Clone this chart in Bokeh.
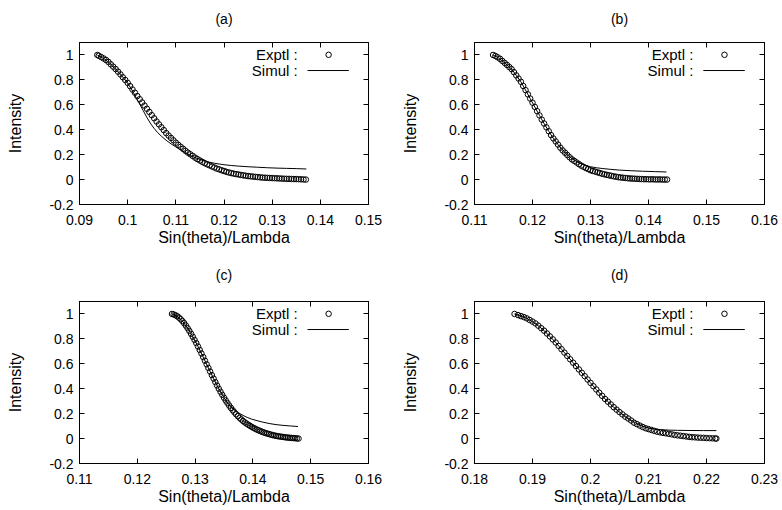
from bokeh.plotting import figure
from bokeh.layouts import gridplot
from bokeh.models import FixedTicker, LinearAxis, Range1d, Label
from bokeh.embed import file_html
from bokeh.resources import INLINE

FONT = "Liberation Sans"

# ---------------- data ----------------
a_x = [0.0937, 0.0940, 0.0945, 0.0950, 0.0955, 0.0960, 0.0965, 0.0970, 0.0975, 0.0980, 0.0985, 0.0990, 0.0995,
       0.1000, 0.1005, 0.1010, 0.1015, 0.1020, 0.1025, 0.1030, 0.1035, 0.1040, 0.1045, 0.1050, 0.1055, 0.1060, 0.1065, 0.1070, 0.1075, 0.1080, 0.1085, 0.1090, 0.1095,
       0.1100, 0.1105, 0.1110, 0.1115, 0.1120, 0.1125, 0.1130, 0.1135, 0.1140, 0.1145, 0.1150, 0.1155, 0.1160, 0.1165, 0.1170, 0.1175, 0.1180, 0.1185, 0.1190, 0.1195,
       0.1200, 0.1205, 0.1210, 0.1215, 0.1220, 0.1225, 0.1230, 0.1235, 0.1240, 0.1245, 0.1250, 0.1255, 0.1260, 0.1265, 0.1270, 0.1275, 0.1280, 0.1285, 0.1290, 0.1295,
       0.1300, 0.1305, 0.1310, 0.1315, 0.1320, 0.1325, 0.1330, 0.1335, 0.1340, 0.1345, 0.1350, 0.1355, 0.1360, 0.1365, 0.1370]
a_y = [1.000, 0.994, 0.983, 0.972, 0.960, 0.944, 0.925, 0.906, 0.887, 0.866, 0.844, 0.821, 0.799,
       0.776, 0.750, 0.723, 0.697, 0.670, 0.645, 0.619, 0.594, 0.568, 0.543, 0.517, 0.492, 0.466, 0.443, 0.420, 0.397, 0.373, 0.353, 0.334, 0.315,
       0.296, 0.279, 0.263, 0.247, 0.231, 0.216, 0.203, 0.190, 0.176, 0.164, 0.153, 0.142, 0.132, 0.122, 0.114, 0.105, 0.097, 0.088, 0.082, 0.075,
       0.069, 0.062, 0.057, 0.052, 0.048, 0.044, 0.041, 0.037, 0.034, 0.031, 0.028, 0.026, 0.024, 0.022, 0.020, 0.018, 0.016, 0.015, 0.014, 0.013,
       0.012, 0.011, 0.010, 0.009, 0.008, 0.007, 0.006, 0.006, 0.005, 0.004, 0.004, 0.003, 0.002, 0.001, 0.000]
a_sim_x = [0.0937, 0.0945, 0.0955, 0.0965, 0.0975, 0.0985, 0.0995, 0.1003, 0.1010, 0.1018, 0.1025, 0.1032, 0.1040,
           0.1048, 0.1055, 0.1062, 0.1070, 0.1080, 0.1090, 0.1100, 0.1110, 0.1120, 0.1130, 0.1140, 0.1150, 0.1160,
           0.1170, 0.1180, 0.1190, 0.1200, 0.1215, 0.1230, 0.1250, 0.1270, 0.1290, 0.1310, 0.1330, 0.1350, 0.1371]
a_sim_y = [1.000, 0.983, 0.960, 0.925, 0.887, 0.844, 0.799, 0.755, 0.712, 0.655, 0.605, 0.555, 0.498,
           0.447, 0.410, 0.378, 0.348, 0.315, 0.287, 0.262, 0.238, 0.215, 0.194, 0.176, 0.161, 0.149,
           0.139, 0.131, 0.125, 0.119, 0.113, 0.108, 0.103, 0.099, 0.095, 0.092, 0.090, 0.088, 0.085]

b_x = [0.1132, 0.1136, 0.1140, 0.1144, 0.1148, 0.1152, 0.1156, 0.1160, 0.1164, 0.1168, 0.1172, 0.1176, 0.1180, 0.1184, 0.1188, 0.1192, 0.1196,
       0.1200, 0.1204, 0.1208, 0.1212, 0.1216, 0.1220, 0.1224, 0.1228, 0.1232, 0.1236, 0.1240, 0.1244, 0.1248, 0.1252, 0.1256, 0.1260, 0.1264, 0.1268, 0.1272, 0.1276, 0.1280, 0.1284, 0.1288, 0.1292, 0.1296,
       0.1300, 0.1304, 0.1308, 0.1312, 0.1316, 0.1320, 0.1324, 0.1328, 0.1332, 0.1336, 0.1340, 0.1344, 0.1348, 0.1352, 0.1356, 0.1360, 0.1364, 0.1368, 0.1372, 0.1376, 0.1380, 0.1384, 0.1388, 0.1392, 0.1396,
       0.1400, 0.1404, 0.1408, 0.1412, 0.1416, 0.1420, 0.1424, 0.1428, 0.1432]
b_y = [1.000, 0.992, 0.981, 0.969, 0.952, 0.936, 0.920, 0.903, 0.886, 0.862, 0.836, 0.811, 0.785, 0.751, 0.718, 0.684, 0.650,
       0.617, 0.583, 0.549, 0.515, 0.481, 0.450, 0.419, 0.388, 0.357, 0.330, 0.306, 0.281, 0.256, 0.234, 0.216, 0.197, 0.179, 0.162, 0.150, 0.137, 0.124, 0.112, 0.102, 0.093, 0.084,
       0.075, 0.069, 0.064, 0.058, 0.053, 0.047, 0.042, 0.038, 0.034, 0.030, 0.026, 0.023, 0.019, 0.017, 0.015, 0.013, 0.011, 0.009, 0.008, 0.007, 0.006, 0.005, 0.004, 0.003, 0.003,
       0.002, 0.002, 0.002, 0.001, 0.001, 0.001, 0.000, 0.000, 0.000]
b_sim_x = [0.1132, 0.1140, 0.1148, 0.1156, 0.1164, 0.1172, 0.1180, 0.1188, 0.1196, 0.1204, 0.1212, 0.1220, 0.1228, 0.1236, 0.1244,
           0.1252, 0.1260, 0.1268, 0.1276, 0.1284, 0.1292, 0.1300, 0.1310, 0.1320, 0.1335, 0.1350, 0.1370, 0.1390, 0.1410, 0.1431]
b_sim_y = [1.000, 0.981, 0.952, 0.920, 0.886, 0.836, 0.785, 0.718, 0.650, 0.583, 0.515, 0.450, 0.388, 0.330, 0.281,
           0.236, 0.199, 0.168, 0.145, 0.127, 0.113, 0.103, 0.095, 0.089, 0.082, 0.076, 0.071, 0.067, 0.064, 0.061]

c_x = [0.1260, 0.1263, 0.1266, 0.1269, 0.1272, 0.1275, 0.1278, 0.1281, 0.1284, 0.1287, 0.1290, 0.1293, 0.1296, 0.1299,
       0.1302, 0.1305, 0.1308, 0.1311, 0.1314, 0.1317, 0.1320, 0.1323, 0.1326, 0.1329, 0.1332, 0.1335, 0.1338, 0.1341, 0.1344, 0.1347, 0.1350,
       0.1353, 0.1356, 0.1359, 0.1362, 0.1365, 0.1368, 0.1371, 0.1374, 0.1377, 0.1380, 0.1383, 0.1386, 0.1389, 0.1392, 0.1395, 0.1398,
       0.1401, 0.1404, 0.1407, 0.1410, 0.1413, 0.1416, 0.1419, 0.1422, 0.1425, 0.1428, 0.1431, 0.1434, 0.1437, 0.1440,
       0.1443, 0.1446, 0.1449, 0.1452, 0.1455, 0.1458, 0.1461, 0.1464, 0.1467, 0.1470, 0.1473, 0.1476, 0.1479]
c_y = [1.000, 0.996, 0.990, 0.982, 0.971, 0.958, 0.943, 0.926, 0.907, 0.886, 0.864, 0.841, 0.817, 0.792,
       0.766, 0.739, 0.711, 0.683, 0.654, 0.625, 0.596, 0.567, 0.538, 0.509, 0.481, 0.453, 0.426, 0.400, 0.375, 0.351, 0.328,
       0.306, 0.285, 0.265, 0.246, 0.228, 0.211, 0.195, 0.180, 0.166, 0.153, 0.141, 0.130, 0.120, 0.111, 0.102, 0.094,
       0.086, 0.079, 0.072, 0.066, 0.060, 0.054, 0.049, 0.044, 0.040, 0.036, 0.032, 0.028, 0.025, 0.022,
       0.019, 0.017, 0.015, 0.013, 0.011, 0.009, 0.008, 0.006, 0.005, 0.004, 0.003, 0.001, 0.000]
c_sim_x = [0.1260, 0.1269, 0.1278, 0.1287, 0.1296, 0.1305, 0.1314, 0.1323, 0.1332, 0.1341, 0.1350, 0.1356, 0.1362,
           0.1368, 0.1375, 0.1383, 0.1390, 0.1398, 0.1407, 0.1416, 0.1428, 0.1440, 0.1452, 0.1465, 0.1478]
c_sim_y = [1.000, 0.982, 0.943, 0.886, 0.817, 0.739, 0.654, 0.567, 0.481, 0.400, 0.328, 0.287, 0.252,
           0.228, 0.207, 0.186, 0.170, 0.156, 0.144, 0.133, 0.121, 0.112, 0.106, 0.101, 0.097]

d_x = [0.1869,
       0.1875, 0.1880, 0.1885, 0.1890, 0.1895, 0.1900, 0.1905, 0.1910, 0.1915, 0.1920, 0.1925, 0.1930, 0.1935, 0.1940, 0.1945,
       0.1950, 0.1955, 0.1960, 0.1965, 0.1970, 0.1975, 0.1980, 0.1985, 0.1990, 0.1995,
       0.2000, 0.2005, 0.2010, 0.2015, 0.2020, 0.2025, 0.2030, 0.2035, 0.2040, 0.2045, 0.2050, 0.2055, 0.2060, 0.2065, 0.2070, 0.2075, 0.2080, 0.2085, 0.2090, 0.2095,
       0.2100, 0.2105, 0.2110, 0.2115, 0.2120, 0.2125, 0.2130, 0.2135, 0.2140, 0.2145, 0.2150, 0.2155, 0.2160, 0.2165, 0.2170, 0.2175, 0.2180, 0.2185, 0.2190, 0.2195,
       0.2200, 0.2205, 0.2210, 0.2215, 0.2217]
d_y = [1.000,
       0.991, 0.983, 0.975, 0.965, 0.952, 0.939, 0.924, 0.906, 0.886, 0.866, 0.843, 0.820, 0.796, 0.771, 0.744,
       0.717, 0.690, 0.663, 0.636, 0.609, 0.582, 0.555, 0.528, 0.501, 0.474,
       0.447, 0.420, 0.394, 0.368, 0.343, 0.318, 0.296, 0.274, 0.252, 0.232, 0.213, 0.194, 0.176, 0.161, 0.145, 0.128, 0.116, 0.104, 0.093, 0.083,
       0.076, 0.069, 0.062, 0.055, 0.050, 0.046, 0.042, 0.038, 0.034, 0.029, 0.026, 0.023, 0.020, 0.017, 0.014, 0.011, 0.010, 0.008, 0.007, 0.006,
       0.004, 0.003, 0.002, 0.001, 0.000]
d_sim_x = [0.1869, 0.1880, 0.1890, 0.1900, 0.1910, 0.1920, 0.1930, 0.1940, 0.1950, 0.1960, 0.1970, 0.1980, 0.1990, 0.2000, 0.2010, 0.2020,
           0.2030, 0.2040, 0.2050, 0.2060, 0.2070, 0.2080, 0.2090, 0.2100, 0.2110, 0.2120, 0.2135, 0.2150, 0.2170, 0.2195, 0.2217]
d_sim_y = [1.000, 0.983, 0.965, 0.939, 0.906, 0.866, 0.820, 0.771, 0.717, 0.663, 0.609, 0.555, 0.501, 0.447, 0.394, 0.343,
           0.296, 0.252, 0.213, 0.176, 0.146, 0.120, 0.099, 0.085, 0.077, 0.072, 0.068, 0.066, 0.065, 0.064, 0.064]

panel_titles = ["(a)", "(b)", "(c)", "(d)"]
x_ranges = [(0.09, 0.15), (0.11, 0.16), (0.11, 0.16), (0.18, 0.23)]
x_ticks_a = [0.09, 0.10, 0.11, 0.12, 0.13, 0.14, 0.15]
x_tick_labels_a = ["0.09", "0.1", "0.11", "0.12", "0.13", "0.14", "0.15"]
x_ticks_bc = [0.11, 0.12, 0.13, 0.14, 0.15, 0.16]
x_tick_labels_bc = ["0.11", "0.12", "0.13", "0.14", "0.15", "0.16"]
x_ticks_d = [0.18, 0.19, 0.20, 0.21, 0.22, 0.23]
x_tick_labels_d = ["0.18", "0.19", "0.2", "0.21", "0.22", "0.23"]
y_range = (-0.2, 1.1)
y_ticks = [-0.2, 0.0, 0.2, 0.4, 0.6, 0.8, 1.0]
y_tick_labels = ["-0.2", "0", "0.2", "0.4", "0.6", "0.8", "1"]
series_labels = ["Exptl :", "Simul :"]
x_label = "Sin(theta)/Lambda"
y_label = "Intensity"


def style_axis(ax, ticks, labels, show_labels=True):
    ax.ticker = FixedTicker(ticks=ticks)
    ax.major_tick_in = 5
    ax.major_tick_out = 0
    ax.minor_tick_line_color = None
    ax.axis_line_color = "black"
    ax.major_tick_line_color = "black"
    ax.major_label_text_font = FONT
    ax.axis_label_text_font = FONT
    ax.axis_label_text_font_style = "normal"
    ax.axis_label_text_color = "black"
    ax.axis_label_text_font_size = "16px"
    if show_labels:
        ax.major_label_overrides = {t: l for t, l in zip(ticks, labels)}
        ax.major_label_text_font_size = "14px"
        ax.major_label_text_color = "black"
    else:
        # mirrored ticks only (gnuplot style): labels are not drawn
        ax.major_label_text_color = None
        ax.major_label_text_font_size = "1px"
        ax.major_label_standoff = 0


def make_panel(title, ex_x, ex_y, sim_x, sim_y, xr, xt, xtl, borders, title_gap):
    left, right, top, bottom = borders
    p = figure(width=391, height=255, output_backend="svg", toolbar_location=None,
               title_location=None,
               x_range=Range1d(*xr), y_range=Range1d(*y_range),
               min_border_left=left, min_border_right=right,
               min_border_top=top, min_border_bottom=bottom,
               x_axis_label=x_label, y_axis_label=y_label)
    p.grid.visible = False
    p.background_fill_color = "white"
    p.border_fill_color = "white"
    p.outline_line_color = "black"
    p.outline_line_width = 1

    style_axis(p.xaxis[0], xt, xtl)
    p.xaxis[0].major_label_standoff = 10
    p.xaxis[0].axis_label_standoff = 1
    style_axis(p.yaxis[0], y_ticks, y_tick_labels)
    p.yaxis[0].major_label_standoff = 6
    p.yaxis[0].axis_label_standoff = 22

    # top axis: mirrored ticks, its label carries the panel caption
    top_ax = LinearAxis(axis_label=title)
    style_axis(top_ax, xt, xtl, show_labels=False)
    top_ax.axis_label_text_font_size = "14px"
    top_ax.axis_label_standoff = title_gap
    p.add_layout(top_ax, "above")
    right_ax = LinearAxis()
    style_axis(right_ax, y_ticks, y_tick_labels, show_labels=False)
    p.add_layout(right_ax, "right")

    p.line(sim_x, sim_y, line_color="black", line_width=1)
    p.scatter(ex_x, ex_y, marker="circle", size=5.5, fill_color=None,
              line_color="black", line_width=1)

    # key (gnuplot style: text, then sample), positioned as fractions of the frame
    x0, x1 = xr
    y0, y1 = y_range
    fx = lambda f: x0 + f * (x1 - x0)
    fy = lambda f: y0 + f * (y1 - y0)
    for lab, f in zip(series_labels, (0.924, 0.827)):
        p.add_layout(Label(x=fx(0.755), y=fy(f), text=lab, text_align="right",
                           text_baseline="middle", text_font=FONT,
                           text_font_size="15px", text_color="black"))
    p.scatter([fx(0.862)], [fy(0.924)], marker="circle", size=5.5, fill_color=None,
              line_color="black", line_width=1)
    p.line([fx(0.789), fx(0.932)], [fy(0.827), fy(0.827)], line_color="black", line_width=1)
    return p


pa = make_panel(panel_titles[0], a_x, a_y, a_sim_x, a_sim_y, x_ranges[0], x_ticks_a, x_tick_labels_a,
                (79, 23, 42, 51), 16)
pb = make_panel(panel_titles[1], b_x, b_y, b_sim_x, b_sim_y, x_ranges[1], x_ticks_bc, x_tick_labels_bc,
                (83, 18, 42, 51), 16)
pc = make_panel(panel_titles[2], c_x, c_y, c_sim_x, c_sim_y, x_ranges[2], x_ticks_bc, x_tick_labels_bc,
                (79, 23, 46, 47), 19)
pd = make_panel(panel_titles[3], d_x, d_y, d_sim_x, d_sim_y, x_ranges[3], x_ticks_d, x_tick_labels_d,
                (83, 18, 46, 47), 19)

grid = gridplot([[pa, pb], [pc, pd]], toolbar_location=None)
open("out.html", "w").write(file_html(grid, INLINE))
